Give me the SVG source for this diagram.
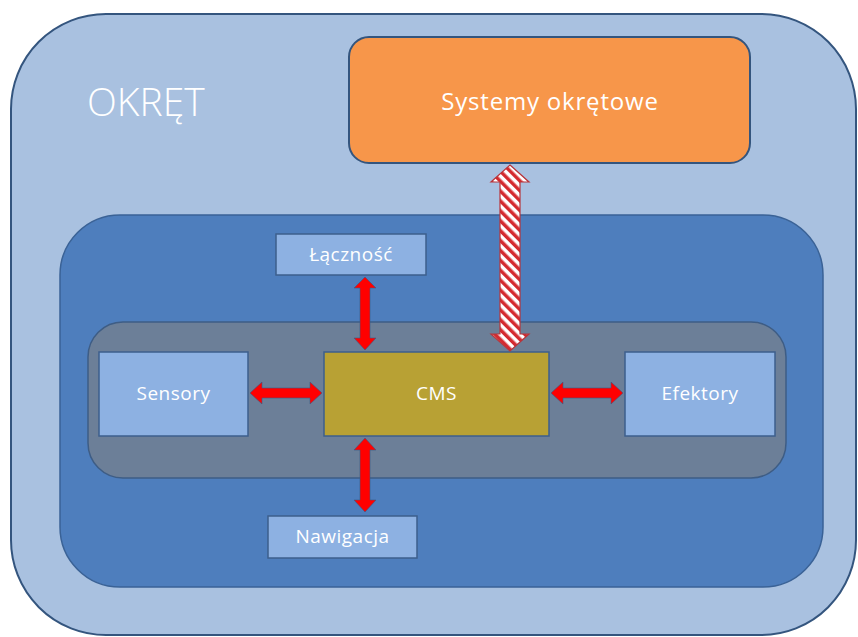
<svg xmlns="http://www.w3.org/2000/svg" width="858" height="637" viewBox="0 0 858 637">
  <defs>
    <pattern id="stripes" patternUnits="userSpaceOnUse" width="7" height="7" patternTransform="rotate(-45)">
      <rect width="7" height="7" fill="#ffffff"/>
      <rect width="3.5" height="7" fill="#d42a2f"/>
    </pattern>
    <style>
      .ship { fill: #a9c1e0; stroke: #34557e; stroke-width: 2; }
      .cmsZone { fill: #4e7ebd; stroke: #3a6296; stroke-width: 1.5; }
      .core { fill: #6c7f98; stroke: #3e5d85; stroke-width: 1.5; }
      .box { fill: #8db1e2; stroke: #3d5f8c; stroke-width: 1.5; }
      .cms { fill: #b8a134; stroke: #3d5f8c; stroke-width: 1.5; }
      .sys { fill: #f7964a; stroke: #34557e; stroke-width: 2; }
      .lbl { font-family: "Open Sans", "Noto Sans", sans-serif; fill: #ffffff; text-anchor: middle; }
      .small { font-size: 19px; letter-spacing: 0.5px; }
      .red { fill: #ff0000; stroke: #3a5a86; stroke-width: 1; stroke-opacity: 0.6; }
    </style>
  </defs>

  <!-- ship hull area -->
  <g id="okret">
    <rect class="ship" x="11" y="14" width="845" height="621" rx="95" ry="95"/>
    <text class="lbl" x="87" y="116" font-size="39" font-weight="300" style="text-anchor:start">OKRĘT</text>
  </g>

  <g id="systemy">
    <rect class="sys" x="349" y="37" width="401" height="126" rx="20" ry="20"/>
    <text class="lbl" x="550" y="110" font-size="24" letter-spacing="0.8">Systemy okrętowe</text>
  </g>

  <g id="strefa">
    <rect class="cmsZone" x="60" y="215" width="763" height="372" rx="60" ry="60"/>
  </g>

  <g id="rdzen">
    <rect class="core" x="88" y="322" width="698" height="156" rx="35" ry="35"/>
  </g>

  <g id="sensory">
    <rect class="box" x="99" y="352" width="149" height="84"/>
    <text class="lbl small" x="173.5" y="400">Sensory</text>
  </g>

  <g id="cms">
    <rect class="cms" x="324" y="352" width="225" height="84"/>
    <text class="lbl small" x="436.5" y="400">CMS</text>
  </g>

  <g id="efektory">
    <rect class="box" x="625" y="352" width="150" height="84"/>
    <text class="lbl small" x="700" y="400">Efektory</text>
  </g>

  <g id="lacznosc">
    <rect class="box" x="276" y="234" width="150" height="41"/>
    <text class="lbl small" x="351" y="261">Łączność</text>
  </g>

  <g id="nawigacja">
    <rect class="box" x="268" y="516" width="149" height="42"/>
    <text class="lbl small" x="342.5" y="543">Nawigacja</text>
  </g>

  <!-- connectors -->
  <g id="connectors">
    <!-- Sensory <-> CMS -->
    <polygon class="red" points="250,393 262,382 262,388 310,388 310,382 322,393 310,404 310,398 262,398 262,404"/>
    <!-- CMS <-> Efektory -->
    <polygon class="red" points="551,393 563,382 563,388 611,388 611,382 623,393 611,404 611,398 563,398 563,404"/>
    <!-- Łączność <-> CMS -->
    <polygon class="red" points="365,277 376,288 370,288 370,338 376,338 365,350 354,338 360,338 360,288 354,288"/>
    <!-- CMS <-> Nawigacja -->
    <polygon class="red" points="365,438 376,450 370,450 370,500 376,500 365,512 354,500 360,500 360,450 354,450"/>
    <!-- Systemy okrętowe <-> CMS (hatched) -->
    <polygon fill="url(#stripes)" stroke="#b8343a" stroke-width="1.2" points="510,165 529,182 520,182 520,334 529,334 510,351 491,334 500,334 500,182 491,182"/>
  </g>
</svg>
